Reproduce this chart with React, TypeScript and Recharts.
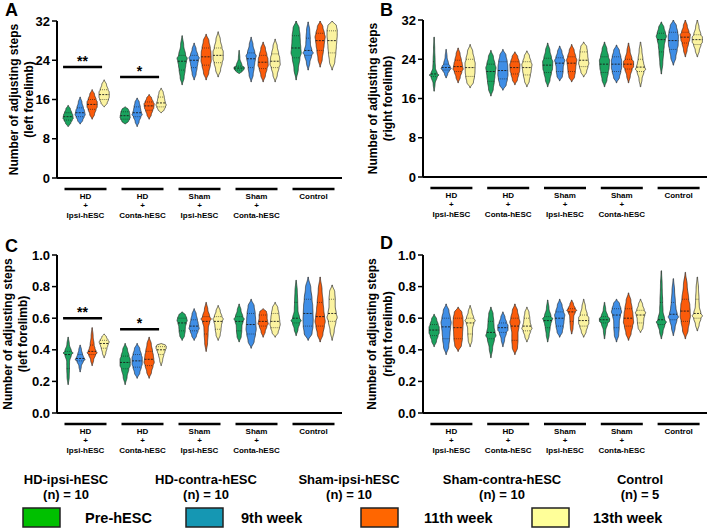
import React from 'react';
import { ComposedChart, Bar, XAxis, YAxis, Label } from 'recharts';

const FONT = 'Liberation Sans, Arial, Helvetica, sans-serif';

const groups = ['HD-ipsi', 'HD-conta', 'Sham-ipsi', 'Sham-conta', 'Control'];
const groupLabels = [
  ['HD', '+', 'Ipsi-hESC'],
  ['HD', '+', 'Conta-hESC'],
  ['Sham', '+', 'Ipsi-hESC'],
  ['Sham', '+', 'Conta-hESC'],
  ['Control'],
];
const timepoints = ['Pre-hESC', '9th week', '11th week', '13th week'];
const violinColors = ['#1aa35e', '#3f8ee6', '#fb5b0b', '#fbf3a0'];
const legendColors = ['#00c000', '#1597b3', '#ff6600', '#ffff99'];
const cohorts = ['HD-ipsi-hESC', 'HD-contra-hESC', 'Sham-ipsi-hESC', 'Sham-contra-hESC', 'Control'];
const cohortN = [10, 10, 10, 10, 5];

// each entry: [min, q1, median, q3, max] per group
// Panel A: left forelimb, number of steps
const aPre = [[10.5, 11.8, 12.5, 13.3, 14.8], [11, 12, 12.7, 13.5, 14.5], [19, 22, 23.8, 25, 29], [21.3, 22, 22.4, 22.8, 26], [20, 24.5, 26.5, 29, 32]];
const a9 = [[11, 12.5, 13.3, 14.3, 16.5], [10.5, 12.5, 13.3, 14.5, 16.3], [20, 22.5, 24, 25, 27.5], [19.6, 22.5, 24.3, 25.5, 28.7], [22, 25, 26, 28.5, 31.8]];
const a11 = [[12, 14, 15, 16, 18], [12, 13.8, 14.7, 15.5, 17], [20, 23, 24.7, 26.5, 29.3], [19.6, 22.3, 23.6, 25, 27.7], [22.6, 26, 28, 29.5, 32]];
const a13 = [[14.5, 16, 17, 18, 20], [13.3, 14.5, 15.3, 16.5, 18.3], [20.6, 23.5, 25, 26.5, 29.8], [19.6, 22.5, 23.8, 25.3, 28.3], [22, 25.5, 28, 30, 32]];
const aSig = [22.6, 20.6, null, null, null];
const aStars = ['**', '*', '', '', ''];

// Panel B: right forelimb, number of steps
const bPre = [[17.5, 20.5, 21, 23.5, 28.5], [16.5, 19.5, 21.5, 23, 25.8], [18.4, 21.3, 22.8, 24.2, 27.3], [18.4, 21.3, 23, 24.5, 27.5], [21, 25.5, 28, 29.3, 31.6]];
const b9 = [[20.2, 21.8, 22.3, 23, 26], [17.7, 20, 21.7, 23.5, 26], [19.6, 21.5, 23.2, 24.3, 26.7], [19.2, 21.5, 23, 24.5, 26.9], [22.8, 26, 27.8, 29.5, 32]];
const b11 = [[19.2, 21.5, 22.5, 23.8, 26.3], [18.8, 21, 22.3, 23.5, 25.5], [19.4, 21.5, 23.2, 24.5, 27], [19.2, 22, 23, 24, 27.3], [24.5, 27.3, 28.5, 29.5, 32]];
const b13 = [[18.2, 20.5, 22.3, 24, 27], [18.4, 20.8, 22.3, 23.5, 25.7], [20.4, 22.5, 23.8, 25.5, 27.5], [18.4, 21.5, 22.4, 24, 27.5], [24.5, 27, 28, 29, 32]];
const bSig = [null, null, null, null, null];
const bStars = ['', '', '', '', ''];

// Panel C: left forelimb, ratio
const cPre = [[0.18, 0.28, 0.37, 0.39, 0.48], [0.18, 0.28, 0.32, 0.36, 0.44], [0.46, 0.52, 0.57, 0.6, 0.64], [0.45, 0.52, 0.58, 0.61, 0.69], [0.49, 0.57, 0.6, 0.7, 0.84]];
const c9 = [[0.26, 0.33, 0.345, 0.37, 0.43], [0.22, 0.29, 0.33, 0.37, 0.44], [0.46, 0.52, 0.55, 0.59, 0.66], [0.41, 0.5, 0.56, 0.63, 0.72], [0.46, 0.55, 0.63, 0.72, 0.86]];
const c11 = [[0.3, 0.37, 0.39, 0.43, 0.54], [0.22, 0.3, 0.34, 0.39, 0.48], [0.39, 0.5, 0.58, 0.61, 0.7], [0.48, 0.55, 0.58, 0.62, 0.66], [0.45, 0.55, 0.61, 0.7, 0.86]];
const c13 = [[0.35, 0.41, 0.44, 0.46, 0.5], [0.3, 0.37, 0.4, 0.42, 0.44], [0.46, 0.53, 0.58, 0.61, 0.68], [0.48, 0.54, 0.58, 0.63, 0.7], [0.46, 0.58, 0.63, 0.72, 0.81]];
const cSig = [0.6, 0.53, null, null, null];
const cStars = ['**', '*', '', '', ''];

// Panel D: right forelimb, ratio
const dPre = [[0.42, 0.49, 0.525, 0.56, 0.625], [0.35, 0.47, 0.51, 0.58, 0.67], [0.45, 0.54, 0.585, 0.61, 0.715], [0.47, 0.57, 0.59, 0.61, 0.7], [0.47, 0.56, 0.59, 0.7, 0.9]];
const d9 = [[0.37, 0.47, 0.545, 0.6, 0.69], [0.42, 0.51, 0.54, 0.57, 0.64], [0.48, 0.55, 0.6, 0.64, 0.72], [0.45, 0.54, 0.62, 0.66, 0.72], [0.49, 0.59, 0.625, 0.7, 0.85]];
const d11 = [[0.39, 0.47, 0.54, 0.6, 0.67], [0.37, 0.46, 0.55, 0.6, 0.69], [0.5, 0.58, 0.64, 0.66, 0.715], [0.46, 0.55, 0.6, 0.66, 0.76], [0.47, 0.58, 0.645, 0.72, 0.89]];
const d13 = [[0.42, 0.5, 0.57, 0.6, 0.68], [0.45, 0.52, 0.55, 0.6, 0.67], [0.48, 0.55, 0.585, 0.62, 0.72], [0.51, 0.57, 0.62, 0.65, 0.72], [0.52, 0.6, 0.63, 0.72, 0.86]];
const dSig = [null, null, null, null, null];
const dStars = ['', '', '', '', ''];

const stepTicks = [0, 8, 16, 24, 32];
const ratioTicks = [0, 0.2, 0.4, 0.6, 0.8, 1.0];

function interpWidth(knots: number[][], v: number) {
  for (let i = 0; i < knots.length - 1; i++) {
    const [v0, w0] = knots[i];
    const [v1, w1] = knots[i + 1];
    if (v >= v0 && v <= v1) {
      const t = v1 === v0 ? 0 : (v - v0) / (v1 - v0);
      return w0 + (w1 - w0) * (1 - Math.cos(Math.PI * t)) / 2;
    }
  }
  return 0;
}

const Violin = (props: any) => {
  const { x, y, width, height, stats, color } = props;
  if (!stats || x == null || isNaN(y)) return <g />;
  const [mn, q1, md, q3, mx] = stats;
  const top = Math.min(y, y + height);
  const bot = Math.max(y, y + height);
  const py = (v: number) => bot - ((v - mn) / (mx - mn)) * (bot - top);
  const cx = x + width / 2;
  const half = width / 2 - 0.9;
  const qs = [mn, q1, md, q3, mx];
  const d = [0, 1, 2, 3].map((i) => 0.25 / Math.max(qs[i + 1] - qs[i], 1e-6));
  const dm = Math.max(...d);
  const dn = d.map((v) => Math.pow(v / dm, 0.85));
  const knots = [
    [mn, 0.05],
    [(mn + q1) / 2, dn[0] * 0.85],
    [q1, (dn[0] + dn[1]) / 2],
    [(q1 + md) / 2, dn[1]],
    [md, (dn[1] + dn[2]) / 2],
    [(md + q3) / 2, dn[2]],
    [q3, (dn[2] + dn[3]) / 2],
    [(q3 + mx) / 2, dn[3] * 0.85],
    [mx, 0.05],
  ];
  const N = 60;
  const left: string[] = [];
  const right: string[] = [];
  for (let i = 0; i <= N; i++) {
    const v = mn + ((mx - mn) * i) / N;
    const w = interpWidth(knots, v) * half;
    left.push(`${(cx - w).toFixed(2)},${py(v).toFixed(2)}`);
    right.push(`${(cx + w).toFixed(2)},${py(v).toFixed(2)}`);
  }
  const path = 'M' + left.join(' L') + ' L' + right.reverse().join(' L') + ' Z';
  const wq1 = interpWidth(knots, q1) * half;
  const wmd = interpWidth(knots, md) * half;
  const wq3 = interpWidth(knots, q3) * half;
  return (
    <g>
      <path d={path} fill={color} stroke="#2a2a2a" strokeWidth={0.7} />
      <line x1={cx - wmd} x2={cx + wmd} y1={py(md)} y2={py(md)} stroke="#1a1a1a" strokeWidth={0.9} strokeDasharray="2 1.2" />
      <line x1={cx - wq1} x2={cx + wq1} y1={py(q1)} y2={py(q1)} stroke="#1a1a1a" strokeWidth={0.7} strokeDasharray="0.8 1.2" />
      <line x1={cx - wq3} x2={cx + wq3} y1={py(q3)} y2={py(q3)} stroke="#1a1a1a" strokeWidth={0.7} strokeDasharray="0.8 1.2" />
    </g>
  );
};

const SigShape = (props: any) => {
  const { x, y, width, height, payload } = props;
  if (!payload || payload.sig == null || x == null || isNaN(y)) return <g />;
  const ty = Math.min(y, y + height);
  const x1 = x + width * 0.02;
  const x2 = x + width * 0.85;
  return (
    <g>
      <line x1={x1} x2={x2} y1={ty} y2={ty} stroke="#000" strokeWidth={2.5} />
      <text x={(x1 + x2) / 2} y={ty - 1} textAnchor="middle" fontSize={14} fontWeight="bold" fontFamily={FONT} fill="#000">
        {payload.stars}
      </text>
    </g>
  );
};

const GroupTick = (props: any) => {
  const { x, y, payload } = props;
  const idx = groups.indexOf(payload.value);
  const lines = groupLabels[idx] || [];
  return (
    <g>
      <line x1={x - 21} x2={x + 21} y1={y + 11} y2={y + 11} stroke="#000" strokeWidth={2.5} />
      {lines.map((t, i) => (
        <text key={i} x={x} y={y + 21 + i * 9.3} textAnchor="middle" fontSize={8} fontWeight="bold" fontFamily={FONT} fill="#000">
          {t}
        </text>
      ))}
    </g>
  );
};

const YLabel = (props: any) => {
  const { viewBox, lines, off1, off2 } = props;
  const vb = viewBox || { x: 0, y: 0, width: 57, height: 157 };
  const ax = vb.x + vb.width;
  const cy = vb.y + vb.height / 2;
  const x1 = ax - off1;
  const x2 = ax - off2;
  return (
    <g>
      <text x={x1} y={cy} transform={`rotate(-90, ${x1}, ${cy})`} textAnchor="middle" dominantBaseline="central" fontSize={12} fontWeight="bold" fontFamily={FONT} fill="#000">
        {lines[0]}
      </text>
      <text x={x2} y={cy} transform={`rotate(-90, ${x2}, ${cy})`} textAnchor="middle" dominantBaseline="central" fontSize={12} fontWeight="bold" fontFamily={FONT} fill="#000">
        {lines[1]}
      </text>
    </g>
  );
};

type PanelProps = {
  left: number;
  top: number;
  marginLeft: number;
  marginRight: number;
  marginTop: number;
  marginBottom: number;
  series: number[][][];
  sig: (number | null)[];
  stars: string[];
  domain: number[];
  ticks: number[];
  ratio: boolean;
  yLines: string[];
  off1: number;
  off2: number;
};

function Panel(p: PanelProps) {
  const data = groups.map((g, i) => ({
    name: g,
    s0: p.series[0][i],
    s1: p.series[1][i],
    s2: p.series[2][i],
    s3: p.series[3][i],
    sig: p.sig[i],
    stars: p.stars[i],
  }));
  return (
    <div style={{ position: 'absolute', left: p.left, top: p.top }}>
      <ComposedChart
        width={354}
        height={232}
        data={data}
        margin={{ top: p.marginTop, right: p.marginRight, bottom: p.marginBottom, left: p.marginLeft }}
        barCategoryGap="9%"
        barGap={0}
      >
        <XAxis
          dataKey="name"
          height={50}
          axisLine={{ stroke: '#000', strokeWidth: 2 }}
          tickLine={false}
          tickSize={0}
          tickMargin={0}
          interval={0}
          tick={<GroupTick />}
        />
        <XAxis dataKey="name" xAxisId="sig" hide />
        <YAxis
          width={57}
          domain={p.domain}
          ticks={p.ticks}
          interval={0}
          allowDataOverflow
          axisLine={{ stroke: '#000', strokeWidth: 2 }}
          tickLine={{ stroke: '#000', strokeWidth: 1.5 }}
          tickSize={5}
          tickMargin={2}
          tickFormatter={(v: number) => (p.ratio ? v.toFixed(1) : String(v))}
          tick={{ fontSize: 13, fontWeight: 'bold', fill: '#000', fontFamily: FONT }}
        >
          <Label content={(lp: any) => <YLabel {...lp} lines={p.yLines} off1={p.off1} off2={p.off2} />} />
        </YAxis>
        {timepoints.map((t, k) => (
          <Bar
            key={t}
            name={t}
            dataKey={(d: any) => [d['s' + k][0], d['s' + k][4]]}
            fill={violinColors[k]}
            isAnimationActive={false}
            shape={(sp: any) => <Violin {...sp} stats={sp.payload ? sp.payload['s' + k] : null} color={violinColors[k]} />}
          />
        ))}
        <Bar
          xAxisId="sig"
          dataKey={(d: any) => (d.sig == null ? null : [d.sig * 0.995, d.sig])}
          isAnimationActive={false}
          shape={SigShape}
        />
      </ComposedChart>
    </div>
  );
}

const Legend = () => {
  const names = [66, 206, 349, 502, 640];
  const boxX = [23, 186, 361, 532];
  const textX = [85, 241, 424, 593];
  return (
    <svg width={708} height={531} style={{ position: 'absolute', left: 0, top: 0, pointerEvents: 'none' }}>
      <text x={5} y={16} fontSize={18} fontWeight="bold" fontFamily={FONT} fill="#000">A</text>
      <text x={380} y={16} fontSize={18} fontWeight="bold" fontFamily={FONT} fill="#000">B</text>
      <text x={5} y={252} fontSize={18} fontWeight="bold" fontFamily={FONT} fill="#000">C</text>
      <text x={380} y={249} fontSize={18} fontWeight="bold" fontFamily={FONT} fill="#000">D</text>
      {cohorts.map((c, i) => (
        <g key={c}>
          <text x={names[i]} y={479} textAnchor="middle" dominantBaseline="central" fontSize={13} fontWeight="bold" fontFamily={FONT} fill="#000">{c}</text>
          <text x={names[i]} y={494} textAnchor="middle" dominantBaseline="central" fontSize={13} fontWeight="bold" fontFamily={FONT} fill="#000">{`(n) = ${cohortN[i]}`}</text>
        </g>
      ))}
      {timepoints.map((t, i) => (
        <g key={t}>
          <rect x={boxX[i]} y={508} width={37} height={19} fill={legendColors[i]} stroke="#222" strokeWidth={1.5} />
          <text x={textX[i]} y={518} dominantBaseline="central" fontSize={14.5} fontWeight="bold" fontFamily={FONT} fill="#000">{t}</text>
        </g>
      ))}
    </svg>
  );
};

export default function App() {
  return (
    <div style={{ position: 'absolute', left: 0, top: 0, width: 708, height: 531, background: '#fff', overflow: 'hidden' }}>
      <Panel
        left={0} top={0} marginLeft={0} marginRight={12} marginTop={21} marginBottom={4}
        series={[aPre, a9, a11, a13]} sig={aSig} stars={aStars}
        domain={[0, 32]} ticks={stepTicks} ratio={false}
        yLines={['Number of adjusting steps', '(left forelimb)']} off1={43} off2={28}
      />
      <Panel
        left={354} top={0} marginLeft={12} marginRight={1} marginTop={20} marginBottom={5}
        series={[bPre, b9, b11, b13]} sig={bSig} stars={bStars}
        domain={[0, 32]} ticks={stepTicks} ratio={false}
        yLines={['Number of adjusting steps', '(right forelimb)']} off1={50} off2={35}
      />
      <Panel
        left={0} top={234} marginLeft={0} marginRight={12} marginTop={21} marginBottom={3}
        series={[cPre, c9, c11, c13]} sig={cSig} stars={cStars}
        domain={[0, 1]} ticks={ratioTicks} ratio={true}
        yLines={['Number of adjusting steps', '(left forelimb)']} off1={49} off2={34}
      />
      <Panel
        left={354} top={234} marginLeft={12} marginRight={1} marginTop={21} marginBottom={3}
        series={[dPre, d9, d11, d13]} sig={dSig} stars={dStars}
        domain={[0, 1]} ticks={ratioTicks} ratio={true}
        yLines={['Number of adjusting steps', '(right forelimb)']} off1={51} off2={35}
      />
      <Legend />
    </div>
  );
}
